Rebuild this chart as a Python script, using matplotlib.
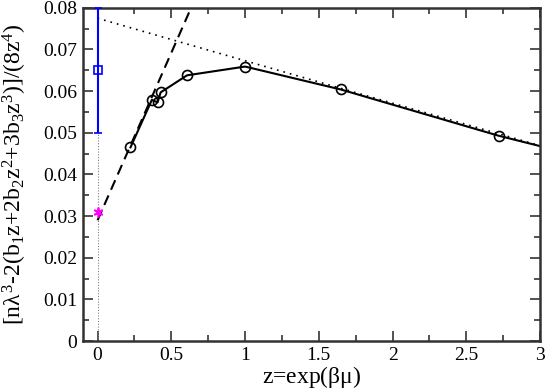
import numpy as np
import matplotlib
matplotlib.use('Agg')
import matplotlib.pyplot as plt
from matplotlib.ticker import MultipleLocator

plt.rcParams['font.family'] = ['Liberation Serif', 'DejaVu Serif']
plt.rcParams['mathtext.fontset'] = 'custom'
plt.rcParams['mathtext.rm'] = 'Liberation Serif'
plt.rcParams['mathtext.it'] = 'Liberation Serif'

# simulation points, z = exp(beta mu)
z_pts = [0.2231, 0.3679, 0.4066, 0.4274, 0.6065, 1.0, 1.6487, 2.7183]
y_pts = [0.0465, 0.0579, 0.0573, 0.0597, 0.0638, 0.0659, 0.0604, 0.0493]
# curve continues to the right edge
z_line = z_pts + [3.0]
y_line = y_pts + [0.0468]

# dashed and dotted fits
dash_z = [0.0, 0.65]
dash_y = [0.0290, 0.0813]
dot_z = [0.0, 3.0]
dot_y = [0.0775, 0.0469]

# blue point with error bar at z=0
blue_z, blue_y, blue_err = 0.0, 0.065, 0.015
# magenta star at z=0
star_z, star_y = 0.0, 0.0309

fig = plt.figure(figsize=(5.45, 3.92), dpi=100)
ax = fig.add_axes([0.152, 0.13, 0.839, 0.85])

ax.plot([0, 0], [0, 0.05], color='gray', lw=0.8, ls=(0, (1, 1.5)))
ax.plot(dot_z, dot_y, color='black', lw=1.2, ls=(0, (1, 3)))
ax.plot(dash_z, dash_y, color='black', lw=1.5, ls=(0, (5, 3)))
ax.plot(z_line, y_line, color='black', lw=1.5)
ax.plot(z_pts, y_pts, 'o', ms=7.2, mfc='none', mec='black', mew=1.2)
ax.errorbar([blue_z], [blue_y], yerr=[blue_err], fmt='s', ms=5.5, mfc='none',
            mec='blue', color='blue', ecolor='blue', elinewidth=1.5, capsize=2.7,
            capthick=1.5, mew=1.2, clip_on=False, zorder=5)
ax.plot([star_z], [star_y], marker=(6, 2, 0), ms=7, color='magenta', mew=1.3,
        ls='none', zorder=6)

ax.set_xlim(-0.1, 3)
ax.set_ylim(0, 0.08)
ax.xaxis.set_major_locator(MultipleLocator(0.5))
ax.xaxis.set_minor_locator(MultipleLocator(0.25))
ax.yaxis.set_major_locator(MultipleLocator(0.01))
ax.yaxis.set_minor_locator(MultipleLocator(0.005))
ax.set_xticks([0, 0.5, 1, 1.5, 2, 2.5, 3])
ax.set_xticklabels(['0', '0.5', '1', '1.5', '2', '2.5', '3'])
ax.set_yticks([0, 0.01, 0.02, 0.03, 0.04, 0.05, 0.06, 0.07, 0.08])
ax.set_yticklabels(['0', '0.01', '0.02', '0.03', '0.04', '0.05', '0.06', '0.07', '0.08'])
ax.tick_params(which='both', direction='in', top=True, right=True, labelsize=14,
               color='#333333', width=1.2)
ax.tick_params(which='major', length=7, pad=4)
ax.tick_params(which='minor', length=4)
for s in ax.spines.values():
    s.set_linewidth(1.8)
    s.set_color('#333333')

ax.set_xlabel(r'z=exp($\beta\mu$)', fontsize=17)
ax.xaxis.set_label_coords(0.5, -0.07)
ax.set_ylabel(r'[n$\lambda^3$-2(b$_1$z+2b$_2$z$^2$+3b$_3$z$^3$)]/(8z$^4$)',
              fontsize=17)
ax.yaxis.set_label_coords(-0.118, 0.5)

fig.savefig('out.png', dpi=100)
